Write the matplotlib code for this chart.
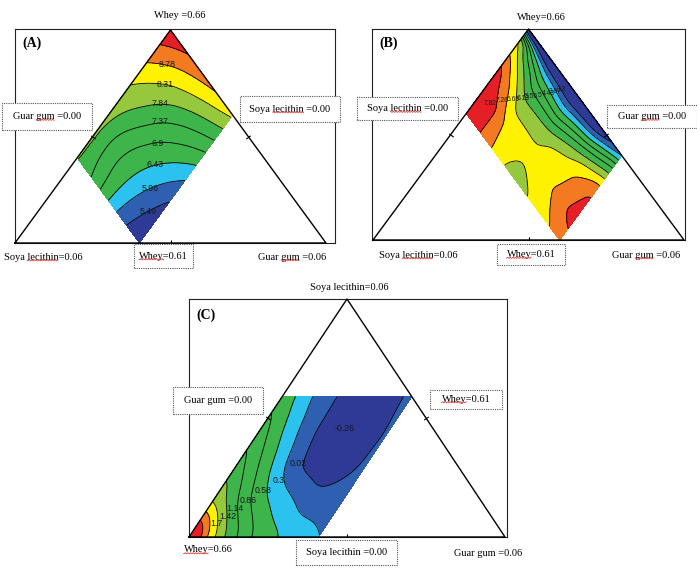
import numpy as np
import matplotlib
matplotlib.use("Agg")
import matplotlib.pyplot as plt
import matplotlib.tri as mtri
from matplotlib.patches import Rectangle
from matplotlib.lines import Line2D

# ---------------- data ----------------
# (A) response on a grid over the diamond: s runs apex -> left corner, t runs apex -> right corner
a_s = [0, 0.25, 0.5, 0.75, 1]
a_t = [0, 0.25, 0.5, 0.75, 1]
a_z = [[9.65, 9.30, 9.01, 8.75, 8.40],
       [8.80, 8.33, 7.90, 7.49, 7.10],
       [8.18, 7.66, 7.05, 6.55, 6.00],
       [7.95, 7.17, 6.58, 5.96, 5.35],
       [7.88, 7.30, 6.43, 5.60, 5.00]]
a_levels = [5.49, 5.96, 6.43, 6.9, 7.37, 7.84, 8.31, 8.78, 9.25]

# (B) rows: s, columns: t
b_s = [0, 0.125, 0.25, 0.375, 0.5, 0.75, 1]
b_t = [0, 0.125, 0.25, 0.5, 0.75, 1]
b_z = [[2.20, 2.50, 2.10, 2.10, 2.30, 3.80],
       [6.74, 4.79, 4.01, 3.44, 3.94, 5.42],
       [7.11, 6.05, 5.06, 4.62, 5.45, 6.55],
       [7.70, 6.75, 5.77, 5.68, 6.52, 7.46],
       [8.10, 7.30, 6.35, 6.52, 6.97, 7.90],
       [8.45, 8.00, 7.15, 6.85, 7.22, 8.15],
       [8.10, 7.95, 7.35, 6.30, 6.90, 7.50]]
b_levels = [3.3, 3.87, 4.43, 5.0, 5.56, 6.13, 6.69, 7.26, 7.82]

# (C) rows: p (bottom edge -> top cut), columns: q (left edge -> right side)
c_p = [0, 0.25, 0.5, 0.75, 1]
c_q = [0, 0.125, 0.25, 0.375, 0.5, 0.75, 1]
c_z = [[2.95, 2.08, 1.52, 1.15, 0.83, 0.53, 0.30],
       [1.70, 1.34, 0.95, 0.67, 0.48, 0.15, 0.15],
       [1.31, 0.99, 0.65, 0.29, 0.00, -0.20, 0.08],
       [1.04, 0.72, 0.41, 0.14, -0.10, -0.23, 0.06],
       [0.78, 0.52, 0.25, 0.08, -0.08, -0.20, 0.10]]
c_levels = [-0.26, 0.02, 0.3, 0.58, 0.86, 1.14, 1.42, 1.7, 1.98, 2.26]

# contour label anchors (triangle coords: left vertex (0,0), right (1,0), apex (0.5,1))
a_lab = [(8.78, 0.488, 0.836), (8.31, 0.482, 0.745), (7.84, 0.466, 0.653), (7.37, 0.466, 0.569),
         (6.9, 0.458, 0.465), (6.43, 0.450, 0.369), (5.96, 0.434, 0.257), (5.49, 0.429, 0.147)]
b_lab = [(7.82, 0.376, 0.648), (7.26, 0.414, 0.659), (6.69, 0.451, 0.664), (6.13, 0.483, 0.672),
         (5.56, 0.510, 0.679), (5.0, 0.537, 0.687), (4.43, 0.564, 0.695), (3.87, 0.585, 0.703),
         (3.3, 0.607, 0.711)]
c_lab = [(-0.26, 0.494, 0.455), (0.02, 0.345, 0.307), (0.3, 0.283, 0.239), (0.58, 0.235, 0.197),
         (0.86, 0.188, 0.155), (1.14, 0.146, 0.120), (1.42, 0.124, 0.085), (1.7, 0.088, 0.057)]

NAVY, BLUE, CYAN, GREEN = '#2f3996', '#2f5fb0', '#2bc2f0', '#3db54a'
YG, YEL, ORA, RED = '#95c83d', '#fff200', '#f37a21', '#e61f26'
cols10 = [NAVY, BLUE, CYAN, GREEN, GREEN, GREEN, YG, YEL, ORA, RED]
cols11 = [NAVY, NAVY, BLUE, CYAN, GREEN, GREEN, GREEN, YG, YEL, ORA, RED]

W, H = 697, 568
fig = plt.figure(figsize=(W / 100, H / 100), dpi=100)
SERIF = 'Liberation Serif'


def add_panel(frame, tri_px):
    l, t, r, b = frame
    ax = fig.add_axes([l / W, 1 - b / H, (r - l) / W, (b - t) / H])
    xL, xR, yb, yt = tri_px
    sx, sy = xR - xL, yb - yt
    ax.set_xlim((l - xL) / sx, (r - xL) / sx)
    ax.set_ylim((yb - b) / sy, (yb - t) / sy)
    ax.set_xticks([])
    ax.set_yticks([])
    for sp in ax.spines.values():
        sp.set_linewidth(0.8)
        sp.set_color('#222222')
    # triangle
    ax.plot([0, 0.5, 1, 0], [0, 1, 0, 0], color='k', lw=1.0, clip_on=False, zorder=5)
    # small ticks at edge midpoints
    ang = np.degrees(np.arctan2(sy, 0.5 * sx))
    for (mx, my, a) in [(0.25, 0.5, ang), (0.75, 0.5, -ang), (0.5, 0.0, 0)]:
        ax.plot(mx, my, marker=(2, 0, a), ms=4, mew=0.8, color='k', zorder=6)
    return ax


def draw_field(ax, u_vals, v_vals, z, to_xy, levels, colors):
    # smooth cubic surface through the read grid values
    U, V = np.meshgrid(u_vals, v_vals, indexing='ij')
    x, y = to_xy(U.ravel(), V.ravel())
    nu, nv = len(u_vals), len(v_vals)
    tris = []
    for i in range(nu - 1):
        for j in range(nv - 1):
            k = i * nv + j
            tris.append([k, k + nv, k + 1])
            tris.append([k + 1, k + nv, k + nv + 1])
    tri = mtri.Triangulation(x, y, tris)
    zz = np.ravel(z)
    interp = mtri.CubicTriInterpolator(tri, zz, kind='min_E')
    tri_f, z_f = mtri.UniformTriRefiner(tri).refine_field(zz, triinterpolator=interp, subdiv=5)
    ax.tricontourf(tri_f, z_f, levels=[-100] + levels + [100], colors=colors, zorder=2)
    ax.tricontour(tri_f, z_f, levels=levels, colors='k', linewidths=0.6,
                  linestyles='solid', zorder=3)


def draw_field_lin(ax, u_vals, v_vals, z, to_xy, levels, colors, n=161, sigma=0.03):
    # bilinear surface through the read values, lightly smoothed (no overshoot)
    uf = np.linspace(0, 1, n)
    vf = np.linspace(0, 1, n)
    z = np.asarray(z, float)
    tmp = np.array([np.interp(vf, v_vals, row) for row in z])
    zf = np.array([np.interp(uf, u_vals, col) for col in tmp.T]).T
    k = int(3 * sigma * (n - 1))
    g = np.exp(-0.5 * (np.arange(-k, k + 1) / (sigma * (n - 1))) ** 2)
    g /= g.sum()
    zp = np.pad(zf, k, mode='edge')
    zp = np.apply_along_axis(lambda r: np.convolve(r, g, mode='valid'), 0, zp)
    zp = np.apply_along_axis(lambda r: np.convolve(r, g, mode='valid'), 1, zp)
    U, V = np.meshgrid(uf, vf, indexing='ij')
    X, Y = to_xy(U, V)
    ax.contourf(X, Y, zp, levels=[-100] + levels + [100], colors=colors, zorder=2)
    ax.contour(X, Y, zp, levels=levels, colors='k', linewidths=0.6,
               linestyles='solid', zorder=3)


def put_labels(ax, labs, size):
    for v, x, y in labs:
        ax.text(x, y, f"{v:g}", fontsize=size, ha='center', va='center',
                family='Liberation Sans', color='#1a1a1a', zorder=4)


# ----- panel A
axA = add_panel((15, 29, 335, 243), (15, 326, 243, 30))
draw_field(axA, a_s, a_t, a_z,
           lambda s, t: (0.5 * (1 - 0.6 * s - 0.4 * t) + 0.4 * t, 1 - 0.6 * s - 0.4 * t),
           a_levels, cols10)
put_labels(axA, a_lab, 6.3)

# ----- panel B
axB = add_panel((372, 29, 685, 240), (373, 684, 240, 29))
draw_field_lin(axB, b_s, b_t, b_z,
               lambda s, t: (0.5 * (1 - 0.4 * s - 0.6 * t) + 0.6 * t, 1 - 0.4 * s - 0.6 * t),
               b_levels, cols10)
put_labels(axB, b_lab, 4.8)

# ----- panel C
axC = add_panel((189, 299, 507, 537), (189, 505, 537, 299))
draw_field_lin(axC, c_p, c_q, c_z,
               lambda p, q: (0.5 * 0.59 * p + 0.41 * q, 0.59 * p),
               c_levels, cols11, sigma=0.045)
put_labels(axC, c_lab, 6.3)


# ----- texts (pixel positions)
def ftext(x, y, s, **kw):
    return fig.text(x / W, 1 - y / H, s, ha='center', va='center', family=SERIF, **kw)


def box(cx, cy, w, h, s):
    fig.patches.append(Rectangle(((cx - w / 2) / W, 1 - (cy + h / 2) / H), w / W, h / H,
                                 transform=fig.transFigure, fc='white', ec='#555555',
                                 lw=0.8, ls=(0, (1, 1)), zorder=8))
    return ftext(cx, cy, s, fontsize=7.5, zorder=9)


marked = []   # (text artist, word carrying the red spell-check squiggle)
for x, y, s, w in [(180, 15, 'Whey =0.66', None), (43, 257, 'Soya lecithin=0.06', 'lecithin'),
                   (292, 257, 'Guar gum =0.06', 'gum'), (541, 17, 'Whey=0.66', None),
                   (418, 255, 'Soya lecithin=0.06', 'lecithin'), (646, 255, 'Guar gum =0.06', 'gum'),
                   (349, 287, 'Soya lecithin=0.06', None), (208, 550, 'Whey=0.66', 'Whey'),
                   (488, 553, 'Guar gum =0.06', None)]:
    t = ftext(x, y, s, fontsize=7.5)
    if w:
        marked.append((t, w))

for x, y, s in [(32, 43, '(A)'), (389, 43, '(B)'), (206, 315, '(C)')]:
    ftext(x, y, s, fontsize=10, fontweight='bold')

for cx, cy, w, h, s, word in [(47, 116.5, 90, 27, 'Guar gum =0.00', 'gum'),
                              (290, 109, 100, 26, 'Soya lecithin =0.00', 'lecithin'),
                              (163.5, 256, 59, 24, 'Whey=0.61', 'Whey'),
                              (407.5, 108.5, 101, 23, 'Soya lecithin =0.00', 'lecithin'),
                              (652, 116.5, 90, 23, 'Guar gum =0.00', 'gum'),
                              (531, 254.5, 68, 21, 'Whey=0.61', 'Whey'),
                              (218, 400.5, 90, 27, 'Guar gum =0.00', None),
                              (466, 399, 72, 19, 'Whey=0.61', 'Whey'),
                              (346.5, 552.5, 101, 25, 'Soya lecithin =0.00', None)]:
    t = box(cx, cy, w, h, s)
    if word:
        marked.append((t, word))

# red wavy underline under the flagged words
renderer = fig.canvas.get_renderer()
for art, word in marked:
    full = art.get_text()
    i = full.index(word) + len(word)
    bb = art.get_window_extent(renderer)
    probe = fig.text(0, 0, full[:i], fontsize=art.get_fontsize(), family=SERIF)
    w_to_end = probe.get_window_extent(renderer).width
    probe.set_text(word)
    w_word = probe.get_window_extent(renderer).width
    probe.remove()
    x1 = bb.x0 + w_to_end
    xs = np.arange(x1 - w_word, x1, 0.6)
    ys = bb.y0 + 1.2 + 0.6 * np.sin(2 * np.pi * xs / 2.6)
    fig.add_artist(Line2D(xs / W, ys / H, transform=fig.transFigure, color='#e0443c',
                          lw=0.6, zorder=10))

fig.savefig('out.png', dpi=100)
